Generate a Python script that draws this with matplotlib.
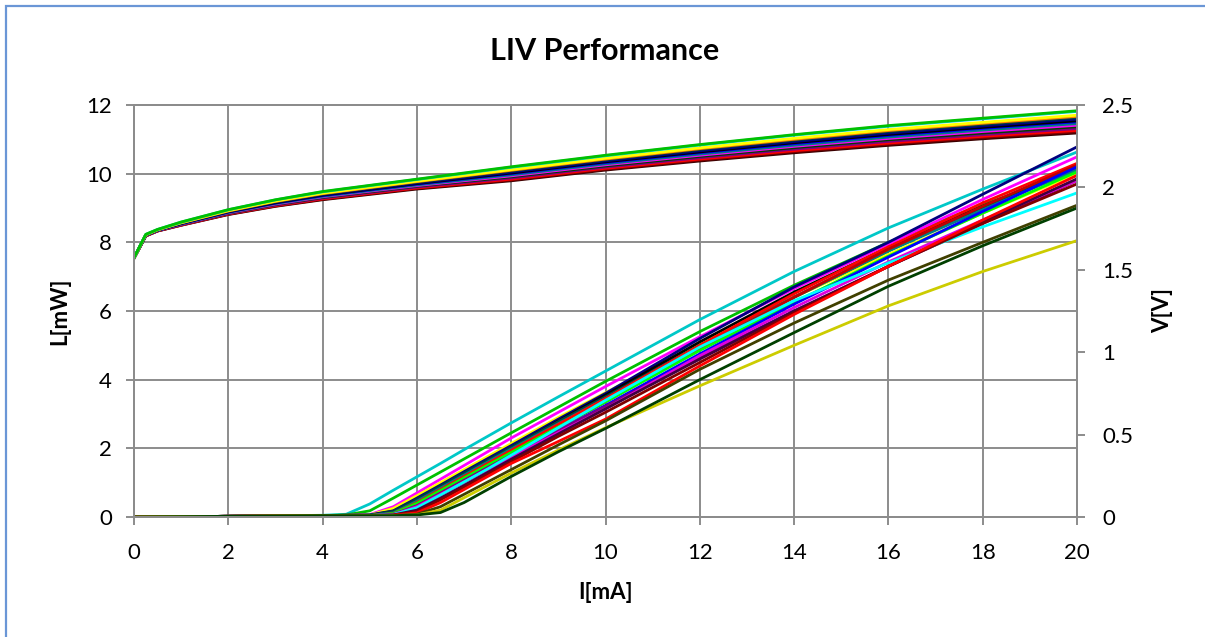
import matplotlib
matplotlib.use("Agg")
import matplotlib.pyplot as plt
from matplotlib.patches import Rectangle

plt.rcParams['font.family'] = ['Lato', 'DejaVu Sans']

# current grid for the L curves (mA)
I_L = [0, 2, 4, 4.5, 5, 5.5, 6, 6.5, 7, 7.5, 8, 9, 10, 12, 14, 16, 18, 20]

# light output per device (mW)
L_curves = [
    ("#00C8C8", [0, 0.02, 0.05, 0.08, 0.38, 0.78, 1.17, 1.56, 1.96, 2.35, 2.74, 3.5, 4.25, 5.75, 7.15, 8.42, 9.55, 10.63]),
    ("#00C000", [0, 0.02, 0.04, 0.06, 0.18, 0.55, 0.93, 1.31, 1.69, 2.07, 2.45, 3.2, 3.95, 5.4, 6.75, 8.0, 9.1, 10.05]),
    ("#FF00FF", [0, 0.02, 0.04, 0.05, 0.07, 0.3, 0.7, 1.1, 1.5, 1.9, 2.3, 3.05, 3.8, 5.25, 6.65, 7.95, 9.25, 10.49]),
    ("#FFFF00", [0, 0.02, 0.04, 0.05, 0.06, 0.25, 0.62, 1.0, 1.38, 1.76, 2.14, 2.9, 3.62, 5.05, 6.4, 7.65, 8.85, 10.0]),
    ("#000080", [0, 0.02, 0.04, 0.05, 0.06, 0.18, 0.55, 0.93, 1.32, 1.7, 2.08, 2.85, 3.6, 5.2, 6.7, 8.0, 9.4, 10.78]),
    ("#000000", [0, 0.02, 0.04, 0.05, 0.05, 0.15, 0.5, 0.88, 1.26, 1.64, 2.02, 2.8, 3.55, 5.1, 6.55, 7.85, 9.05, 10.15]),
    ("#004040", [0, 0.02, 0.04, 0.05, 0.05, 0.17, 0.52, 0.9, 1.28, 1.65, 2.03, 2.78, 3.5, 5.0, 6.4, 7.75, 9.0, 10.2]),
    ("#008080", [0, 0.02, 0.04, 0.04, 0.05, 0.12, 0.46, 0.84, 1.22, 1.6, 1.98, 2.72, 3.45, 4.95, 6.4, 7.75, 8.95, 10.12]),
    ("#FF0000", [0, 0.02, 0.04, 0.04, 0.04, 0.1, 0.42, 0.8, 1.18, 1.56, 1.94, 2.7, 3.45, 5.0, 6.5, 7.87, 9.15, 10.3]),
    ("#C00000", [0, 0.02, 0.04, 0.04, 0.04, 0.08, 0.35, 0.72, 1.1, 1.47, 1.85, 2.6, 3.35, 4.9, 6.4, 7.8, 9.05, 10.25]),
    ("#00FF00", [0, 0.02, 0.04, 0.04, 0.04, 0.1, 0.4, 0.77, 1.14, 1.51, 1.88, 2.62, 3.35, 4.85, 6.25, 7.6, 8.85, 10.05]),
    ("#0000FF", [0, 0.02, 0.04, 0.04, 0.04, 0.07, 0.28, 0.65, 1.02, 1.4, 1.77, 2.52, 3.25, 4.75, 6.2, 7.57, 8.9, 10.2]),
    ("#800080", [0, 0.02, 0.04, 0.04, 0.04, 0.08, 0.33, 0.7, 1.07, 1.44, 1.8, 2.52, 3.22, 4.65, 6.0, 7.3, 8.55, 9.8]),
    ("#E000E0", [0, 0.02, 0.04, 0.04, 0.04, 0.07, 0.3, 0.66, 1.02, 1.38, 1.74, 2.46, 3.15, 4.7, 6.1, 7.43, 8.65, 9.8]),
    ("#00FFFF", [0, 0.02, 0.04, 0.04, 0.04, 0.07, 0.27, 0.64, 1.02, 1.4, 1.8, 2.6, 3.4, 4.95, 6.3, 7.4, 8.45, 9.44]),
    ("#400040", [0, 0.02, 0.04, 0.04, 0.04, 0.06, 0.2, 0.55, 0.92, 1.3, 1.68, 2.42, 3.15, 4.6, 6.0, 7.3, 8.6, 9.85]),
    ("#800000", [0, 0.02, 0.04, 0.04, 0.04, 0.06, 0.15, 0.5, 0.87, 1.24, 1.61, 2.35, 3.05, 4.5, 5.95, 7.3, 8.55, 9.7]),
    ("#FF0000", [0, 0.02, 0.04, 0.04, 0.04, 0.05, 0.12, 0.42, 0.8, 1.18, 1.56, 2.2, 2.85, 4.4, 5.9, 7.3, 8.65, 9.95]),
    ("#404000", [0, 0.02, 0.04, 0.04, 0.04, 0.04, 0.08, 0.3, 0.66, 1.02, 1.38, 2.1, 2.8, 4.3, 5.65, 6.9, 8.0, 9.08]),
    ("#CCCC00", [0, 0.02, 0.04, 0.04, 0.04, 0.04, 0.06, 0.2, 0.56, 0.92, 1.28, 1.95, 2.6, 3.82, 5.0, 6.15, 7.15, 8.05]),
    ("#004000", [0, 0.02, 0.04, 0.04, 0.04, 0.04, 0.06, 0.13, 0.42, 0.8, 1.18, 1.9, 2.58, 4.0, 5.37, 6.72, 7.9, 9.0]),
]

# current grid for the V curves (mA)
I_V = [0, 0.25, 0.5, 1, 2, 3, 4, 6, 8, 10, 12, 14, 16, 18, 20]

# forward voltage per device (V)
V_curves = [
    ("#3A0000", [1.570, 1.705, 1.735, 1.770, 1.835, 1.885, 1.925, 1.990, 2.040, 2.105, 2.160, 2.210, 2.255, 2.295, 2.330]),
    ("#800000", [1.570, 1.706, 1.736, 1.771, 1.837, 1.887, 1.928, 1.994, 2.045, 2.110, 2.166, 2.217, 2.262, 2.303, 2.338]),
    ("#FF0000", [1.570, 1.706, 1.736, 1.772, 1.839, 1.890, 1.931, 1.997, 2.050, 2.116, 2.172, 2.223, 2.269, 2.310, 2.346]),
    ("#800080", [1.571, 1.707, 1.737, 1.774, 1.841, 1.893, 1.935, 2.002, 2.057, 2.123, 2.180, 2.232, 2.279, 2.320, 2.357]),
    ("#004000", [1.571, 1.708, 1.738, 1.776, 1.843, 1.896, 1.939, 2.007, 2.064, 2.130, 2.188, 2.241, 2.289, 2.330, 2.368]),
    ("#FF00FF", [1.571, 1.709, 1.739, 1.777, 1.846, 1.899, 1.943, 2.011, 2.070, 2.137, 2.195, 2.249, 2.297, 2.339, 2.377]),
    ("#008080", [1.571, 1.709, 1.739, 1.778, 1.848, 1.902, 1.946, 2.015, 2.076, 2.143, 2.202, 2.256, 2.305, 2.348, 2.387]),
    ("#0000FF", [1.572, 1.710, 1.740, 1.780, 1.850, 1.905, 1.950, 2.020, 2.083, 2.150, 2.210, 2.265, 2.315, 2.358, 2.398]),
    ("#000000", [1.572, 1.711, 1.741, 1.781, 1.852, 1.907, 1.953, 2.023, 2.087, 2.155, 2.215, 2.271, 2.321, 2.364, 2.404]),
    ("#000080", [1.572, 1.711, 1.741, 1.782, 1.854, 1.910, 1.956, 2.027, 2.093, 2.161, 2.222, 2.278, 2.329, 2.373, 2.414]),
    ("#004040", [1.572, 1.712, 1.742, 1.784, 1.856, 1.913, 1.960, 2.032, 2.100, 2.168, 2.230, 2.287, 2.339, 2.382, 2.424]),
    ("#FF8000", [1.572, 1.712, 1.742, 1.785, 1.857, 1.915, 1.962, 2.035, 2.104, 2.172, 2.235, 2.292, 2.345, 2.389, 2.431]),
    ("#FFFF00", [1.572, 1.713, 1.743, 1.786, 1.859, 1.917, 1.965, 2.038, 2.108, 2.177, 2.240, 2.298, 2.351, 2.395, 2.438]),
    ("#00CCCC", [1.573, 1.715, 1.745, 1.789, 1.864, 1.924, 1.973, 2.048, 2.122, 2.192, 2.257, 2.317, 2.371, 2.416, 2.461]),
    ("#00C000", [1.573, 1.715, 1.745, 1.790, 1.865, 1.925, 1.975, 2.050, 2.125, 2.195, 2.260, 2.320, 2.375, 2.420, 2.465]),
]

x_ticks = list(range(0, 21, 2))
l_ticks = list(range(0, 13, 2))
v_ticks = [0, 0.5, 1, 1.5, 2, 2.5]
v_labels = ["0", "0.5", "1", "1.5", "2", "2.5"]

grey = "#8C8C8C"

fig = plt.figure(figsize=(12.05, 6.37), dpi=100)
ax = fig.add_axes([134 / 1205, 1 - 517 / 637, (1077 - 134) / 1205, (517 - 105) / 637])

# chart border (cropped on right/bottom)
fig.patches.append(Rectangle((6 / 1205, -0.1), 1.2, 1 - 6 / 637 + 0.1,
                             transform=fig.transFigure, fill=False,
                             edgecolor="#6A96D6", linewidth=1.6))

for c, vals in L_curves:
    ax.plot(I_L, vals, color=c, lw=2.0, solid_capstyle="butt")

ax.set_xlim(0, 20)
ax.set_ylim(0, 12)
ax.set_xticks(x_ticks)
ax.set_yticks(l_ticks)
ax.grid(True, color=grey, lw=1.4)
ax.set_axisbelow(True)
for s in ax.spines.values():
    s.set_color(grey)
    s.set_linewidth(1.4)
ax.tick_params(axis="both", direction="out", length=6, width=1.4, color=grey, labelsize=16)
ax.tick_params(axis="y", pad=10)
ax.tick_params(axis="x", pad=13)

ax2 = ax.twinx()
for c, vals in V_curves:
    ax2.plot(I_V, vals, color=c, lw=2.0)
ax2.set_ylim(0, 2.5)
ax2.set_yticks(v_ticks)
ax2.set_yticklabels(v_labels)
for s in ax2.spines.values():
    s.set_color(grey)
    s.set_linewidth(1.4)
ax2.tick_params(axis="y", direction="out", length=6, width=1.4, color=grey, labelsize=16, pad=12)

ax.set_xlabel("I[mA]", fontsize=16, fontweight="bold")
ax.set_ylabel("L[mW]", fontsize=16, fontweight="bold")
ax2.set_ylabel("V[V]", fontsize=16, fontweight="bold")
ax.xaxis.set_label_coords(0.5, -0.158)
ax.yaxis.set_label_coords(-0.068, 0.5)
ax2.yaxis.set_label_coords(1.08, 0.5)
fig.text(0.502, 1 - 51 / 637, "LIV Performance", ha="center", va="center",
         fontsize=22, fontweight="bold")

fig.savefig("out.png", dpi=100)
